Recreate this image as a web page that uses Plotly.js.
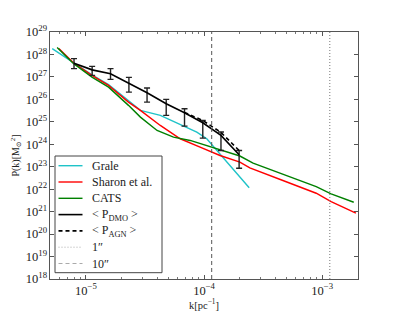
<!DOCTYPE html>
<html>
<head>
<meta charset="utf-8">
<script src="https://cdn.plot.ly/plotly-3.0.1.min.js"></script>
<style>html,body{margin:0;padding:0;background:#fff;}#chart{width:399px;height:319px;}</style>
</head>
<body>
<div id="chart"></div>
<script>
// ---- data ----
const gralesK = [5.18e-6, 7.87e-6, 1.124e-5, 1.553e-5, 2.29e-5, 2.89e-5, 4.26e-5, 6.28e-5, 8.68e-5, 1.054e-4, 1.28e-4, 1.55e-4, 1.94e-4, 2.41e-4];
const gralesP = [1.82e28, 4.14e27, 1.23e27, 4.5e26, 9.0e25, 3.22e25, 1.93e25, 7.4e24, 3.47e24, 1.76e24, 5.3e23, 1.59e23, 4.36e22, 1.15e22];

const sharonK = [5.89e-6, 7.87e-6, 1.124e-5, 1.553e-5, 2.29e-5, 2.89e-5, 4.26e-5, 6.28e-5, 9.25e-5, 1.364e-4, 2.01e-4, 2.44e-4, 4.65e-4, 8.90e-4, 1.19e-3, 1.93e-3];
const sharonP = [1.82e28, 4.14e27, 1.17e27, 4.2e26, 7.55e25, 3.22e25, 6.9e24, 1.76e24, 7.4e23, 3.17e23, 1.59e23, 8.8e22, 2.43e22, 6.6e21, 2.8e21, 8.5e20];

const catsK = [5.70e-6, 7.87e-6, 1.124e-5, 1.553e-5, 2.29e-5, 2.89e-5, 4.0e-5, 5.51e-5, 7.62e-5, 1.019e-4, 1.455e-4, 2.01e-4, 2.60e-4, 4.65e-4, 6.44e-4, 8.90e-4, 1.19e-3, 1.85e-3];
const catsP = [2.02e28, 3.9e27, 9.8e26, 3.5e26, 5.4e25, 1.62e25, 4.1e24, 2.07e24, 1.48e24, 9.3e23, 5.3e23, 3.0e23, 1.44e23, 4.8e22, 2.43e22, 1.31e22, 6.2e21, 2.62e21];

const dmoK  = [7.92e-6, 1.128e-5, 1.614e-5, 2.31e-5, 3.29e-5, 4.78e-5, 6.83e-5, 9.75e-5, 1.39e-4, 1.98e-4];
const dmoP  = [4.1e27, 2.06e27, 1.37e27, 5.4e26, 1.98e26, 6.4e25, 2.54e25, 9.1e24, 2.47e24, 3.4e23];
const dmoHi = [6.5e27, 2.95e27, 2.33e27, 9.5e26, 3.2e26, 9.95e25, 3.8e25, 1.15e25, 3.5e24, 5.3e23];
const dmoLo = [2.33e27, 1.17e27, 7.8e26, 2.1e26, 7.5e25, 1.93e25, 6.4e24, 1.87e24, 5.3e23, 8.6e22];

const agnK = [6.83e-5, 9.75e-5, 1.39e-4, 1.98e-4];
const agnP = [2.6e25, 1.15e25, 3.37e24, 5.3e23];

const arcsecLabels = ['1″', '10″'];
const arcsecK = [1.16e-3, 1.16e-4];
const yRangeExp = [18, 29];
const xRangeK = [4.96e-6, 2.01e-3];

const legendLabels = ['Grale', 'Sharon et al.', 'CATS', '&lt; P<sub>DMO</sub> &gt;', '&lt; P<sub>AGN</sub> &gt;', '1″', '10″'];

// ---- styles ----
const serif = 'Liberation Serif, DejaVu Serif, serif';
const styles = [
  {color: '#1fc3c8', width: 1.4, dash: 'solid'},
  {color: '#ff0000', width: 1.4, dash: 'solid'},
  {color: '#008000', width: 1.4, dash: 'solid'},
  {color: '#000000', width: 1.6, dash: 'solid'},
  {color: '#000000', width: 1.6, dash: '4px,3px'},
  {color: '#777777', width: 1, dash: '1px,2px'},
  {color: '#555555', width: 1, dash: '4px,3px'},
];
const legendSampleStyles = styles.map((s, i) => i >= 5 ? Object.assign({}, s, {color: '#aaaaaa'}) : s);

// ---- traces ----
const traces = [
  {x: gralesK, y: gralesP, mode: 'lines', line: styles[0]},
  {x: sharonK, y: sharonP, mode: 'lines', line: styles[1]},
  {x: catsK, y: catsP, mode: 'lines', line: styles[2]},
  {x: dmoK, y: dmoP, mode: 'lines', line: styles[3],
   error_y: {type: 'data', symmetric: false,
     array: dmoHi.map((h, i) => h - dmoP[i]),
     arrayminus: dmoLo.map((l, i) => dmoP[i] - l),
     color: '#222', thickness: 1.4, width: 3}},
  {x: agnK, y: agnP, mode: 'lines', line: styles[4]},
];
arcsecK.forEach((k, i) => {
  traces.push({x: [k, k], y: [Math.pow(10, yRangeExp[0]), Math.pow(10, yRangeExp[1])], mode: 'lines',
    line: styles[5 + i]});
});

// ---- hand-drawn legend (paper coordinates) ----
const W = 308, H = 247;          // plot area size in px
const px2x = p => p / W;
const px2y = p => 1 - p / H;
const legTop = 124, legBottom = 240.7, legLeft = 5, legRight = 112, itemY0 = 133.7, itemStep = 16.3;
const shapes = [{type: 'rect', xref: 'paper', yref: 'paper',
  x0: px2x(legLeft), x1: px2x(legRight), y0: px2y(legBottom), y1: px2y(legTop),
  line: {color: '#444', width: 1}, fillcolor: '#fff', layer: 'above'}];
const annotations = [];
legendLabels.forEach((lab, i) => {
  const yy = px2y(itemY0 + i * itemStep);
  const st = legendSampleStyles[i];
  shapes.push({type: 'line', xref: 'paper', yref: 'paper', x0: px2x(8.5), x1: px2x(32.5), y0: yy, y1: yy,
    line: {color: st.color, width: st.width, dash: st.dash}, layer: 'above'});
  annotations.push({xref: 'paper', yref: 'paper', x: px2x(40), y: yy, xanchor: 'left', yanchor: 'middle',
    text: lab, showarrow: false, font: {family: serif, size: 12, color: '#222'}});
});

const layout = {
  width: 399, height: 319,
  margin: {l: 50, r: 41, t: 32, b: 40},
  paper_bgcolor: '#fff', plot_bgcolor: '#fff',
  showlegend: false,
  font: {family: serif, size: 10, color: '#222'},
  shapes: shapes, annotations: annotations,
  xaxis: {type: 'log', range: xRangeK.map(Math.log10), dtick: 1, exponentformat: 'power',
    showgrid: false, zeroline: false, showline: true, linecolor: '#555', linewidth: 1, mirror: 'ticks',
    ticks: 'inside', ticklen: 4, tickcolor: '#555',
    minor: {ticks: 'inside', ticklen: 2, tickcolor: '#777', showgrid: false},
    tickfont: {family: serif, size: 10, color: '#222'},
    title: {text: 'k[pc<sup>−1</sup>]', font: {family: serif, size: 10.5, color: '#222'}, standoff: 0}},
  yaxis: {type: 'log', range: yRangeExp, dtick: 1, exponentformat: 'power',
    showgrid: false, zeroline: false, showline: true, linecolor: '#555', linewidth: 1, mirror: 'ticks',
    ticks: 'inside', ticklen: 4, tickcolor: '#555',
    tickfont: {family: serif, size: 10, color: '#222'},
    title: {text: 'P(k)[M<sub>⊙</sub><sup>2</sup>]', font: {family: serif, size: 10, color: '#222'}, standoff: 4}},
};

Plotly.newPlot('chart', traces, layout, {displayModeBar: false, staticPlot: true});
</script>
</body>
</html>
